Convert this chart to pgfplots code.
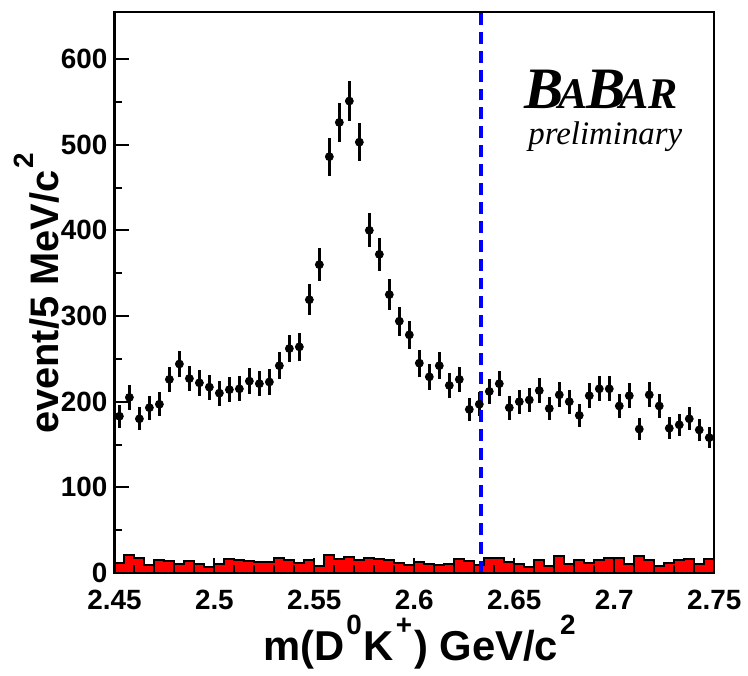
\documentclass[border=0pt]{standalone}
\usepackage{fontspec}
\setmainfont{Liberation Sans}
\newfontfamily\serifit{Liberation Serif}
\usepackage{pgfplots}
\pgfplotsset{compat=1.18}

\newcommand{\supx}[1]{\kern1pt\raisebox{0.62em}{\fontsize{14}{14}\selectfont #1}\kern1pt}

% data points: bin centre, events, error
\pgfplotstableread{
x y e
2.4525 183 13.5
2.4575 205 14.3
2.4625 180 13.4
2.4675 193 13.9
2.4725 197 14.0
2.4775 226 15.0
2.4825 244 15.6
2.4875 227 15.1
2.4925 222 14.9
2.4975 217 14.7
2.5025 210 14.5
2.5075 214 14.6
2.5125 215 14.7
2.5175 224 15.0
2.5225 221 14.9
2.5275 223 14.9
2.5325 242 15.6
2.5375 262 16.2
2.5425 264 16.2
2.5475 319 17.9
2.5525 360 19.0
2.5575 486 22.0
2.5625 526 22.9
2.5675 551 23.5
2.5725 503 22.4
2.5775 400 20.0
2.5825 372 19.3
2.5875 325 18.0
2.5925 294 17.1
2.5975 278 16.7
2.6025 245 15.7
2.6075 229 15.1
2.6125 242 15.6
2.6175 219 14.8
2.6225 226 15.0
2.6275 191 13.8
2.6325 197 14.0
2.6375 212 14.6
2.6425 221 14.9
2.6475 193 13.9
2.6525 200 14.1
2.6575 202 14.2
2.6625 213 14.6
2.6675 192 13.9
2.6725 208 14.4
2.6775 200 14.1
2.6825 184 13.6
2.6875 207 14.4
2.6925 215 14.7
2.6975 215 14.7
2.7025 195 14.0
2.7075 207 14.4
2.7125 168 13.0
2.7175 208 14.4
2.7225 195 14.0
2.7275 169 13.0
2.7325 173 13.2
2.7375 180 13.4
2.7425 167 12.9
2.7475 158 12.6
}\datatable

% background histogram: bin left edge, content
\pgfplotstableread{
x y
2.450 12
2.455 21
2.460 17
2.465 9
2.470 15
2.475 14
2.480 11
2.485 14
2.490 11
2.495 7
2.500 11
2.505 16
2.510 15
2.515 14
2.520 13
2.525 13
2.530 18
2.535 15
2.540 12
2.545 15
2.550 8
2.555 21
2.560 16
2.565 19
2.570 15
2.575 18
2.580 16
2.585 15
2.590 12
2.595 9
2.600 13
2.605 11
2.610 9
2.615 11
2.620 16
2.625 14
2.630 9
2.635 17
2.640 17
2.645 13
2.650 11
2.655 7
2.660 15
2.665 8
2.670 20
2.675 10
2.680 15
2.685 12
2.690 15
2.695 17
2.700 18
2.705 10
2.710 20
2.715 15
2.720 8
2.725 12
2.730 15
2.735 16
2.740 10
2.745 16
2.750 16
}\bkgtable

\begin{document}
\begin{tikzpicture}
\begin{axis}[
  scale only axis,
  width=301.5pt, height=282pt,
  xmin=2.45, xmax=2.75,
  ymin=0, ymax=655,
  xtick={2.45,2.5,2.55,2.6,2.65,2.7,2.75},
  ytick={0,100,200,300,400,500,600},
  minor x tick num=4,
  minor y tick num=1,
  tick pos=left,
  tick align=inside,
  major tick length=7.5pt,
  minor tick length=4pt,
  axis line style={line width=1.2pt},
  every tick/.style={black, line width=1pt},
  xticklabel style={yshift=-5pt, /pgf/number format/.cd, fixed, precision=2},
  /pgf/number format/assume math mode=true,
  tick label style={font=\bfseries\fontsize{14}{16}\selectfont},
  scaled x ticks=false,
  axis on top,
  xlabel={m(D\supx{0}K\supx{+}) GeV/c\supx{2}},
  ylabel={event/5 MeV/c\supx{2}},
  xlabel style={font=\bfseries\fontsize{21}{23}\selectfont,
    at={(axis description cs:0.51,0)}, anchor=base, yshift=-44pt},
  ylabel style={font=\bfseries\fontsize{20}{22}\selectfont,
    at={(axis description cs:-0.094,0.5)}, anchor=base},
  clip=false,
]
\addplot[const plot, fill=red, draw=black, line width=1pt] table[x=x, y=y] {\bkgtable} \closedcycle;
\addplot[only marks, mark=*, mark size=2pt, black,
  error bars/.cd, y dir=both, y explicit, error mark=none,
  error bar style={line width=1.5pt}]
  table[x=x, y=y, y error=e] {\datatable};
\addplot[blue, line width=2pt, dash pattern=on 6pt off 3.5pt] coordinates {(2.6332,0) (2.6332,655)};
\node[anchor=base, inner sep=0] at (axis cs:2.6935,541.9) {\serifit\bfseries\itshape
  \fontsize{29.5}{29.5}\selectfont B\kern-0.1em{\fontsize{22}{22}\selectfont A}\kern-0.02em B\kern-0.1em{\fontsize{22}{22}\selectfont AR}};
\node[anchor=base, inner sep=0] at (axis cs:2.6955,500) {\serifit\itshape\fontsize{16.5}{16.5}\selectfont preliminary};
\end{axis}
\path ([xshift=-57.5pt,yshift=-50.5pt]current axis.south west) rectangle ([xshift=15pt,yshift=6pt]current axis.north east);
\end{tikzpicture}
\end{document}
